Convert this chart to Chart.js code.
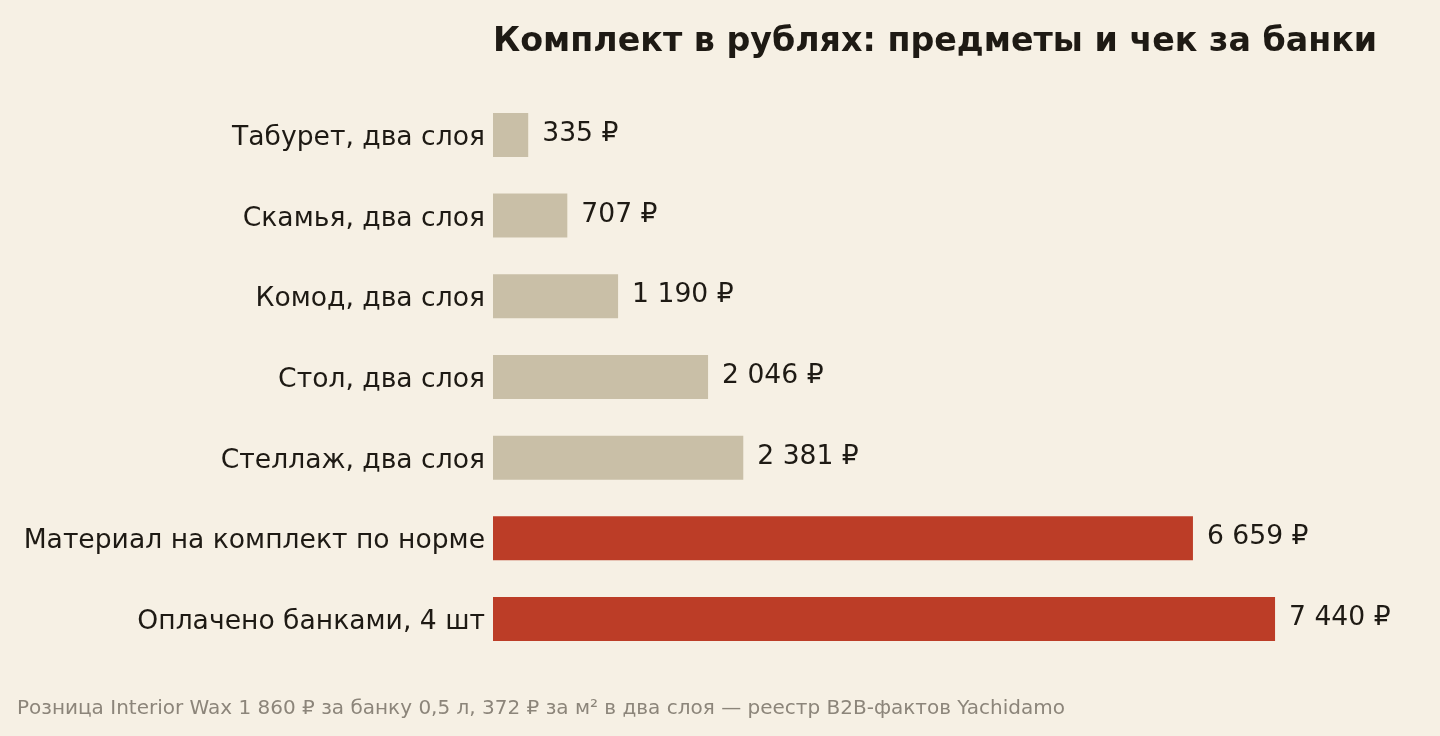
<!DOCTYPE html>
<html>
<head>
<meta charset="utf-8">
<script src="https://cdn.jsdelivr.net/npm/chart.js@4/dist/chart.umd.min.js"></script>
<style>
  html, body { margin: 0; padding: 0; background: #f6f0e4; }
  #wrap { width: 1440px; height: 736px; }
</style>
</head>
<body>
<div id="wrap"><canvas id="myChart"></canvas></div>
<script>
// данные с картинки
var categorias = [
  "Табурет, два слоя",
  "Скамья, два слоя",
  "Комод, два слоя",
  "Стол, два слоя",
  "Стеллаж, два слоя",
  "Материал на комплект по норме",
  "Оплачено банками, 4 шт"
];
var valores = [335, 707, 1190, 2046, 2381, 6659, 7440];
var tipo = ["item", "item", "item", "item", "item", "total", "total"];

var colorItem = "#c9bfa7";
var colorTotal = "#bc3d27";
var colorTexto = "#1e1a14";

function rub(v) {
  return String(v).replace(/\B(?=(\d{3})+(?!\d))/g, " ") + " ₽";
}

// подписи значений справа от столбиков
var etiquetas = {
  id: "etiquetas",
  afterDatasetsDraw: function (chart) {
    var ctx = chart.ctx;
    var meta = chart.getDatasetMeta(0);
    ctx.save();
    ctx.font = "26.6px 'DejaVu Sans'";
    ctx.fillStyle = colorTexto;
    ctx.textBaseline = "middle";
    ctx.textAlign = "left";
    meta.data.forEach(function (bar, i) {
      ctx.fillText(rub(valores[i]), bar.x + 14, bar.y - 1);
    });
    ctx.restore();
  }
};

new Chart("myChart", {
  type: "bar",
  data: {
    labels: categorias,
    datasets: [{
      data: valores,
      backgroundColor: tipo.map(function (t) { return t === "total" ? colorTotal : colorItem; }),
      barPercentage: 0.545,
      categoryPercentage: 1
    }]
  },
  options: {
    indexAxis: "y",
    responsive: true,
    maintainAspectRatio: false,
    animation: false,
    layout: { padding: { left: 17, right: 22, top: 0, bottom: 15 } },
    scales: {
      x: {
        display: false,
        min: 0,
        max: 8800
      },
      y: {
        grid: { display: false, drawTicks: false },
        border: { display: false },
        ticks: {
          color: colorTexto,
          font: { family: "'DejaVu Sans'", size: 26.6 },
          padding: 8,
          labelOffset: 3
        },
        afterFit: function (s) { s.width = 476; }
      }
    },
    plugins: {
      legend: { display: false },
      tooltip: { enabled: false },
      title: {
        display: true,
        text: "Комплект в рублях: предметы и чек за банки",
        align: "start",
        fullSize: false,
        color: colorTexto,
        font: { family: "'DejaVu Sans'", size: 33.3, weight: "bold" },
        padding: { top: 22, bottom: 32.6 }
      },
      subtitle: {
        display: true,
        position: "bottom",
        align: "start",
        text: "Розница Interior Wax 1 860 ₽ за банку 0,5 л, 372 ₽ за м² в два слоя — реестр B2B-фактов Yachidamo",
        color: "#8c857a",
        font: { family: "'DejaVu Sans'", size: 20 },
        padding: { top: 37.6, bottom: 0 }
      }
    }
  },
  plugins: [etiquetas]
});
</script>
</body>
</html>
